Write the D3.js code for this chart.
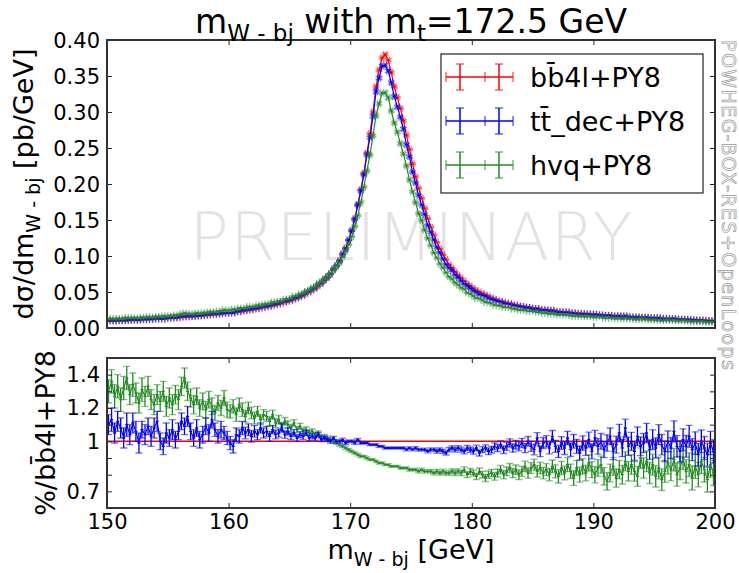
<!DOCTYPE html>
<html><head><meta charset="utf-8">
<script src="https://cdn.jsdelivr.net/npm/d3@7"></script>
<style>
body{margin:0;background:#fff}
svg{display:block}
text{font-family:"DejaVu Sans",sans-serif}
</style>
</head><body>
<svg id="c" width="739" height="573"></svg>
<script>
// ---------------- data ----------------
const massRange = [150, 200];
const binWidth = 0.25;

// dσ/dm (pb/GeV) of the reference bb̄4l+PY8, one value per 0.25 GeV bin (150 → 200)
const bb4lTop = [
.0095,.0096,.0097,.0099, .0100,.0102,.0103,.0105, .0107,.0109,.0111,.0113, .0115,.0117,.0119,.0122,
.0125,.0127,.0130,.0132, .0135,.0138,.0141,.0144, .0147,.0150,.0153,.0157, .0160,.0164,.0168,.0171,
.0175,.0179,.0183,.0186, .0190,.0195,.0200,.0205, .0210,.0215,.0221,.0226, .0232,.0239,.0246,.0253,
.0260,.0267,.0275,.0282, .0290,.0300,.0310,.0320, .0330,.0342,.0355,.0367, .0380,.0397,.0414,.0432,
.0450,.0475,.0500,.0525, .0550,.0585,.0620,.0660, .0700,.0750,.0805,.0865, .0930,.1020,.1110,.1220,
.1350,.1520,.1700,.1920, .2150,.2430,.2700,.3000, .3350,.3580,.3750,.3800, .3720,.3550,.3350,.3200,
.3050,.2880,.2680,.2480, .2280,.2100,.1940,.1800, .1660,.1520,.1400,.1290, .1190,.1100,.1020,.0950,
.0880,.0830,.0780,.0730, .0690,.0650,.0610,.0580, .0550,.0520,.0500,.0480, .0460,.0440,.0420,.0400,
.0385,.0372,.0360,.0348, .0337,.0327,.0318,.0309, .0300,.0293,.0286,.0279, .0272,.0266,.0260,.0254,
.0249,.0244,.0239,.0234, .0229,.0225,.0221,.0217, .0213,.0209,.0205,.0202, .0199,.0196,.0193,.0190,
.0187,.0184,.0181,.0178, .0175,.0172,.0169,.0166, .0163,.0160,.0158,.0156, .0154,.0152,.0150,.0148,
.0146,.0144,.0142,.0140, .0138,.0136,.0134,.0132, .0130,.0128,.0126,.0124, .0122,.0120,.0118,.0116,
.0114,.0112,.0110,.0108, .0106,.0104,.0102,.0100
];

// ratio tt̄_dec / bb̄4l
const ttdecRatio = [
1.10,1.13,1.05,1.12, 1.08,1.02,1.10,1.04, 1.11,1.06,0.99,1.07, 1.04,1.09,1.03,1.08,
1.12,1.00,0.97,1.05, 1.02,1.07,1.01,1.06, 1.12,1.09,1.15,1.06, 1.02,1.08,1.01,1.04,
1.09,1.05,1.13,1.07, 1.03,1.07,1.05,1.02, 0.99,0.97,1.04,1.03, 1.08,1.05,1.07,1.03,
1.06,1.04,1.08,1.05, 1.06,1.03,1.07,1.04, 1.05,1.08,1.04,1.06, 1.03,1.05,1.02,1.04,
1.03,1.05,1.02,1.03, 1.02,1.04,1.01,1.02, 1.01,1.00,1.02,1.00, 1.00,1.01,0.99,1.00,
1.00,0.99,1.01,0.99, 0.99,0.99,0.98,0.98, 0.98,0.97,0.97,0.96, 0.96,0.96,0.96,0.96,
0.96,0.96,0.95,0.96, 0.95,0.96,0.95,0.95, 0.95,0.94,0.95,0.95, 0.94,0.95,0.94,0.93,
0.95,0.96,0.95,0.96, 0.95,0.94,0.96,0.95, 0.94,0.96,0.93,0.95, 0.96,0.94,0.95,0.97,
0.96,0.98,0.95,0.97, 0.99,0.96,0.98,0.97, 0.99,0.96,1.00,0.97, 0.95,1.02,0.94,0.99,
1.00,0.96,1.03,0.97, 0.94,0.99,0.96,1.02, 0.95,1.00,0.97,0.93, 0.99,0.96,1.01,0.94,
1.02,0.97,1.00,0.95, 0.99,1.03,0.94,0.98, 1.05,0.96,1.08,0.97, 1.00,0.94,1.03,0.97,
0.99,1.05,0.95,1.01, 0.96,1.04,0.98,0.94, 1.00,0.96,1.06,0.97, 0.94,1.01,0.97,1.03,
0.95,0.99,0.92,1.00, 0.96,0.92,0.99,0.94
];

// ratio hvq / bb̄4l
const hvqRatio = [
1.30,1.36,1.27,1.33, 1.25,1.32,1.38,1.28, 1.34,1.29,1.23,1.31, 1.27,1.33,1.25,1.22,
1.28,1.24,1.30,1.21, 1.26,1.22,1.28,1.25, 1.33,1.38,1.30,1.26, 1.22,1.27,1.20,1.24,
1.19,1.25,1.21,1.17, 1.23,1.20,1.26,1.19, 1.18,1.21,1.16,1.22, 1.19,1.15,1.20,1.17,
1.14,1.18,1.13,1.16, 1.15,1.12,1.16,1.11, 1.13,1.09,1.12,1.10, 1.08,1.11,1.07,1.09,
1.06,1.07,1.05,1.06, 1.04,1.05,1.03,1.03, 1.02,1.01,1.00,0.99, 0.98,0.97,0.96,0.95,
0.94,0.93,0.92,0.91, 0.91,0.90,0.89,0.89, 0.88,0.87,0.87,0.86, 0.86,0.85,0.85,0.85,
0.84,0.84,0.84,0.83, 0.83,0.83,0.82,0.83, 0.82,0.82,0.82,0.81, 0.82,0.81,0.82,0.81,
0.81,0.82,0.81,0.82, 0.81,0.83,0.80,0.82, 0.81,0.79,0.82,0.80, 0.78,0.80,0.81,0.79,
0.81,0.83,0.80,0.82, 0.84,0.81,0.83,0.80, 0.82,0.85,0.81,0.84, 0.86,0.82,0.84,0.81,
0.83,0.80,0.85,0.82, 0.79,0.84,0.81,0.86, 0.82,0.78,0.84,0.80, 0.85,0.81,0.87,0.83,
0.80,0.84,0.86,0.79, 0.76,0.81,0.85,0.78, 0.83,0.80,0.88,0.82, 0.86,0.82,0.79,0.90,
0.84,0.88,0.81,0.86, 0.79,0.84,0.77,0.82, 0.87,0.83,0.89,0.80, 0.84,0.90,0.82,0.86,
0.78,0.85,0.80,0.88, 0.83,0.77,0.86,0.81
];

// uncertainties on the ratios
const ttdecErr = [
.06,.07,.06,.06, .06,.06,.07,.06, .06,.06,.06,.05, .06,.05,.06,.06,
.06,.05,.05,.06, .05,.06,.05,.05, .05,.05,.06,.05, .05,.05,.05,.05,
.05,.05,.05,.04, .04,.05,.04,.04, .04,.04,.04,.04, .04,.035,.035,.035,
.035,.03,.03,.03, .03,.03,.025,.025, .025,.025,.022,.022, .02,.02,.02,.018,
.018,.016,.016,.015, .014,.013,.012,.012, .011,.011,.01,.01, .01,.009,.009,.008,
.008,.008,.007,.007, .007,.006,.006,.006, .006,.006,.006,.006, .006,.006,.006,.006,
.006,.007,.007,.007, .007,.008,.008,.008, .009,.009,.01,.01, .011,.011,.012,.012,
.013,.013,.014,.014, .015,.015,.016,.016, .017,.017,.018,.018, .019,.02,.02,.021,
.022,.022,.023,.024, .025,.025,.026,.027, .028,.028,.029,.03, .031,.032,.032,.033,
.034,.035,.035,.036, .037,.038,.039,.04, .04,.041,.042,.042, .043,.044,.045,.045,
.046,.047,.047,.048, .049,.05,.05,.051, .052,.052,.053,.054, .054,.055,.056,.056,
.057,.058,.058,.059, .06,.06,.061,.061, .062,.062,.063,.064, .064,.065,.065,.066,
.066,.067,.068,.068, .069,.069,.07,.07
];
const hvqErr = [
.07,.07,.07,.07, .07,.07,.07,.06, .07,.06,.06,.07, .06,.06,.06,.06,
.06,.06,.06,.06, .06,.06,.055,.06, .055,.06,.055,.055, .055,.05,.05,.05,
.05,.05,.05,.045, .045,.045,.045,.045, .04,.04,.04,.04, .04,.035,.035,.035,
.035,.03,.03,.03, .03,.028,.027,.026, .025,.024,.023,.022, .021,.02,.019,.018,
.017,.016,.015,.014, .013,.013,.012,.011, .011,.01,.01,.009, .009,.008,.008,.008,
.007,.007,.007,.007, .006,.006,.006,.006, .006,.006,.006,.006, .006,.006,.006,.006,
.007,.007,.007,.008, .008,.008,.009,.009, .01,.01,.011,.011, .012,.012,.013,.013,
.014,.014,.015,.015, .016,.017,.017,.018, .018,.019,.02,.02, .021,.022,.022,.023,
.024,.025,.025,.026, .027,.028,.028,.029, .03,.031,.031,.032, .033,.034,.035,.035,
.036,.037,.038,.039, .04,.04,.041,.042, .043,.044,.044,.045, .046,.047,.048,.048,
.049,.05,.051,.052, .052,.053,.054,.055, .055,.056,.057,.058, .058,.059,.06,.061,
.061,.062,.063,.063, .064,.065,.065,.066, .067,.067,.068,.069, .069,.07,.07,.071,
.072,.072,.073,.073, .074,.074,.075,.075
];

const topTicks = [0, 0.05, 0.10, 0.15, 0.20, 0.25, 0.30, 0.35, 0.40];
const ratioTicks = [0.7, 0.8, 0.9, 1.0, 1.1, 1.2, 1.3, 1.4];
const ratioTickLabels = ["0.7", "", "", "1", "", "1.2", "", "1.4"];
const xTicks = [150, 160, 170, 180, 190, 200];
const seriesNames = ["bb\u03044l+PY8", "tt\u0304_dec+PY8", "hvq+PY8"];
const seriesColors = ["#ff0000", "#0000ff", "#228b22"];

// ---------------- layout ----------------
const svg = d3.select("#c");
const L = 107, R = 715;
const topP = {t: 40, b: 328};
const botP = {t: 358, b: 508};
const x = d3.scaleLinear().domain(massRange).range([L, R]);
const yTop = d3.scaleLinear().domain([0, 0.4]).range([topP.b, topP.t]);
const yBot = d3.scaleLinear().domain([0.6, 1.5]).range([botP.b, botP.t]);

const binLow = bb4lTop.map((_, i) => massRange[0] + i * binWidth);
const ttdecTop = bb4lTop.map((v, i) => v * ttdecRatio[i]);
const hvqTop = bb4lTop.map((v, i) => v * hvqRatio[i]);

// clip paths
const defs = svg.append("defs");
defs.append("clipPath").attr("id", "clipTop").append("rect")
  .attr("x", L).attr("y", topP.t).attr("width", R - L).attr("height", topP.b - topP.t);
defs.append("clipPath").attr("id", "clipBot").append("rect")
  .attr("x", L).attr("y", botP.t).attr("width", R - L).attr("height", botP.b - botP.t);

// watermark
svg.append("text").attr("x", 411).attr("y", 260).attr("text-anchor", "middle")
  .attr("font-size", 65).attr("font-weight", 200).attr("fill", "#e3e3e3")
  .attr("textLength", 443).attr("lengthAdjust", "spacing")
  .text("PRELIMINARY");

const CAP = 3.5;
function drawSeries(g, vals, errs, yS, color, xcaps) {
  const grp = g.append("g").attr("fill", "none").attr("stroke", color);
  const pts = vals.map((v, i) => [x(binLow[i] + binWidth / 2), yS(v)]);
  grp.append("path").attr("d", d3.line()(pts)).attr("stroke-width", 1.2);
  let bars = "", caps = "";
  vals.forEach((v, i) => {
    const x0 = x(binLow[i]), x1 = x(binLow[i] + binWidth), xc = (x0 + x1) / 2;
    const yc = yS(v), yt = yS(v + errs[i]), yb = yS(v - errs[i]);
    bars += `M${x0},${yc}H${x1}M${xc},${yt}V${yb}`;
    caps += `M${xc - CAP},${yt}H${xc + CAP}M${xc - CAP},${yb}H${xc + CAP}`;
    if (xcaps) caps += `M${x0},${yc - CAP}V${yc + CAP}M${x1},${yc - CAP}V${yc + CAP}`;
  });
  grp.append("path").attr("d", bars).attr("stroke-width", 1.3);
  grp.append("path").attr("d", caps).attr("stroke-width", 1.4).attr("stroke-opacity", 0.55);
}

// top panel
const gTop = svg.append("g").attr("clip-path", "url(#clipTop)");
drawSeries(gTop, bb4lTop, bb4lTop.map((v, i) => v * ttdecErr[i] * 0.7), yTop, seriesColors[0], true);
drawSeries(gTop, ttdecTop, ttdecTop.map((v, i) => v * ttdecErr[i]), yTop, seriesColors[1], true);
drawSeries(gTop, hvqTop, hvqTop.map((v, i) => v * hvqErr[i]), yTop, seriesColors[2], true);

// bottom panel
const gBot = svg.append("g").attr("clip-path", "url(#clipBot)");
gBot.append("line").attr("x1", L).attr("x2", R).attr("y1", yBot(1)).attr("y2", yBot(1))
  .attr("stroke", seriesColors[0]).attr("stroke-width", 1.5);
drawSeries(gBot, hvqRatio, hvqErr, yBot, seriesColors[2], false);
drawSeries(gBot, ttdecRatio, ttdecErr, yBot, seriesColors[1], false);

// axes
function styleAxis(g) {
  g.select(".domain").remove();
  g.selectAll(".tick line").attr("stroke", "#222").attr("stroke-width", 1);
  g.selectAll(".tick text").attr("fill", "#000").attr("font-size", 21)
    .attr("font-family", "DejaVu Sans");
}
const TS = -5;
svg.append("g").attr("transform", `translate(${L},0)`)
  .call(d3.axisLeft(yTop).tickValues(topTicks).tickFormat(d3.format(".2f")).tickSize(TS).tickPadding(7))
  .call(styleAxis).selectAll(".tick text").attr("dy", "0.36em");
svg.append("g").attr("transform", `translate(${R},0)`)
  .call(d3.axisRight(yTop).tickValues(topTicks).tickFormat("").tickSize(TS)).call(styleAxis);
svg.append("g").attr("transform", `translate(0,${topP.b})`)
  .call(d3.axisBottom(x).tickValues(xTicks).tickFormat("").tickSize(TS)).call(styleAxis);
svg.append("g").attr("transform", `translate(0,${topP.t})`)
  .call(d3.axisTop(x).tickValues(xTicks).tickFormat("").tickSize(TS)).call(styleAxis);

svg.append("g").attr("transform", `translate(${L},0)`)
  .call(d3.axisLeft(yBot).tickValues(ratioTicks).tickFormat((d, i) => ratioTickLabels[i]).tickSize(TS).tickPadding(7))
  .call(styleAxis);
svg.append("g").attr("transform", `translate(${R},0)`)
  .call(d3.axisRight(yBot).tickValues(ratioTicks).tickFormat("").tickSize(TS)).call(styleAxis);
svg.append("g").attr("transform", `translate(0,${botP.b})`)
  .call(d3.axisBottom(x).tickValues(xTicks).tickFormat(d3.format("d")).tickSize(TS).tickPadding(6))
  .call(styleAxis);
svg.append("g").attr("transform", `translate(0,${botP.t})`)
  .call(d3.axisTop(x).tickValues(xTicks).tickFormat("").tickSize(TS)).call(styleAxis);

// frames
[topP, botP].forEach(p => svg.append("rect").attr("x", L).attr("y", p.t)
  .attr("width", R - L).attr("height", p.b - p.t)
  .attr("fill", "none").attr("stroke", "#333").attr("stroke-width", 2));

// title
const title = svg.append("text").attr("x", (L + R) / 2).attr("y", 33)
  .attr("text-anchor", "middle").attr("font-size", 33);
title.append("tspan").text("m");
title.append("tspan").attr("font-size", 23).attr("dy", 8).text("W - bj");
title.append("tspan").attr("dy", -8).text(" with m");
title.append("tspan").attr("font-size", 23).attr("dy", 8).text("t");
title.append("tspan").attr("dy", -8).text("=172.5 GeV");

// x label
const xl = svg.append("text").attr("x", (L + R) / 2).attr("y", 559)
  .attr("text-anchor", "middle").attr("font-size", 27);
xl.append("tspan").text("m");
xl.append("tspan").attr("font-size", 19).attr("dy", 7).text("W - bj");
xl.append("tspan").attr("dy", -7).text(" [GeV]");

// y label top
const yl = svg.append("text").attr("transform", `translate(33,${(topP.t + topP.b) / 2}) rotate(-90)`)
  .attr("text-anchor", "middle").attr("font-size", 27);
yl.append("tspan").text("d\u03c3/dm");
yl.append("tspan").attr("font-size", 19).attr("dy", 7).text("W - bj");
yl.append("tspan").attr("dy", -7).text(" [pb/GeV]");

// y label bottom
svg.append("text").attr("transform", `translate(55,${(botP.t + botP.b) / 2}) rotate(-90)`)
  .attr("text-anchor", "middle").attr("font-size", 27).text("%/" + seriesNames[0]);

// side text
svg.append("text").attr("transform", `translate(722,40) rotate(90)`)
  .attr("font-size", 19).attr("fill", "#fff").attr("stroke", "#9a9a9a").attr("stroke-width", 0.7)
  .attr("textLength", 330).attr("lengthAdjust", "spacing")
  .text("POWHEG-BOX-RES+OpenLoops");

// legend
const lg = svg.append("g");
lg.append("rect").attr("x", 441).attr("y", 54).attr("width", 262).attr("height", 139)
  .attr("fill", "#fff").attr("stroke", "#222").attr("stroke-width", 1.2);
seriesNames.forEach((name, i) => {
  const cy = 77 + i * 44;
  const c = seriesColors[i];
  const s = lg.append("g").attr("stroke", c).attr("fill", "none");
  s.append("path").attr("d", `M446,${cy}H513M460,${cy - 13}V${cy + 13}M499,${cy - 13}V${cy + 13}`)
    .attr("stroke-width", 1.5);
  s.append("path").attr("d",
    `M446,${cy - 5}V${cy + 5}M485,${cy - 5}V${cy + 5}M513,${cy - 5}V${cy + 5}` +
    `M456,${cy - 13}H464M456,${cy + 13}H464M495,${cy - 13}H503M495,${cy + 13}H503`)
    .attr("stroke-width", 1.5).attr("stroke-opacity", 0.6);
  lg.append("text").attr("x", 530).attr("y", cy + 10).attr("font-size", 27).text(name);
});
</script>
</body></html>
